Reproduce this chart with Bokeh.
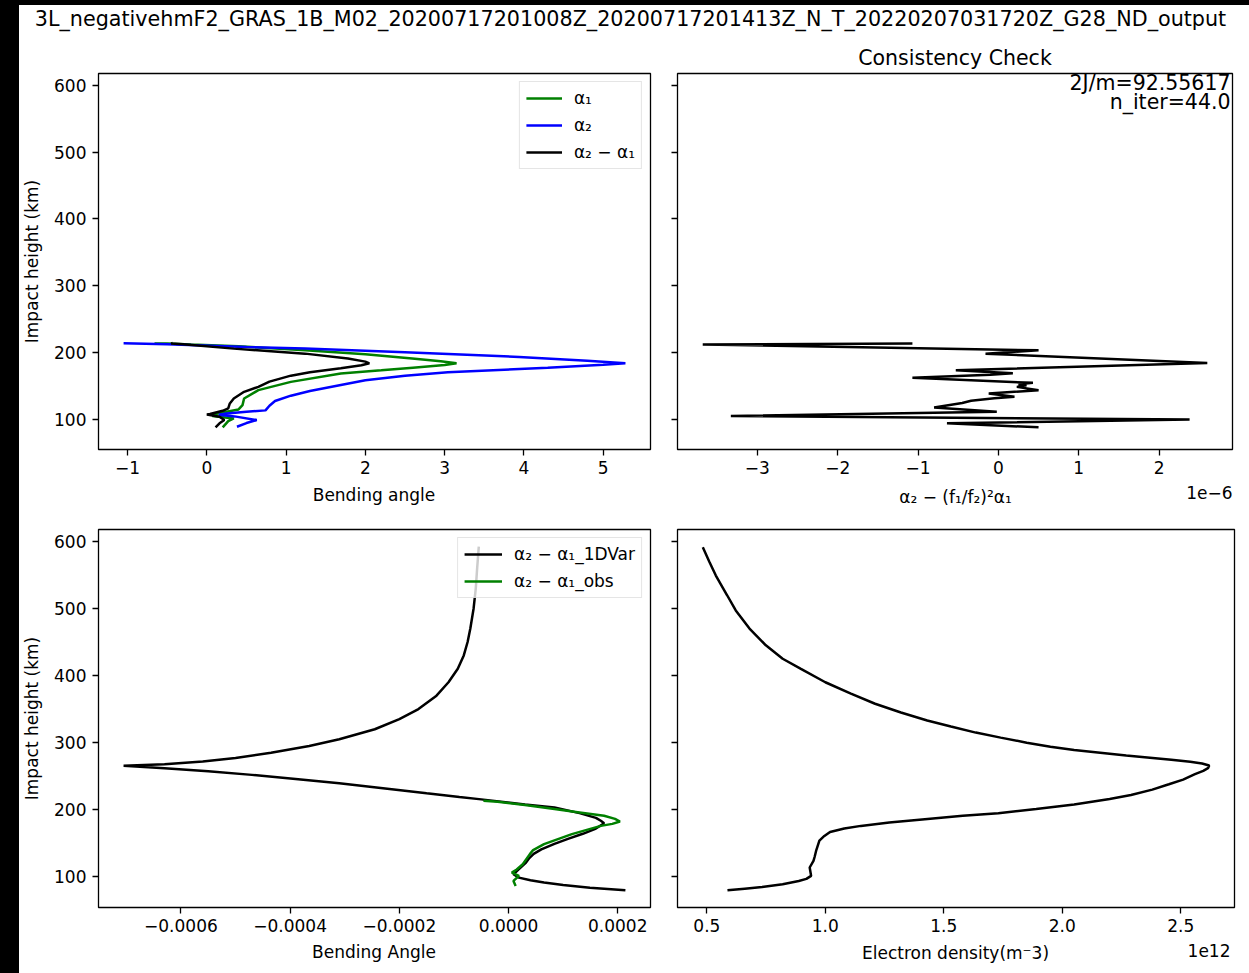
from bokeh.plotting import figure
from bokeh.models import (Range1d, FixedTicker, CustomJSTickFormatter, Legend,
                          LegendItem, Label, Spacer)
from bokeh.layouts import row, column
from bokeh.embed import file_html
from bokeh.resources import INLINE

FONT = "DejaVu Sans"

# ---------------- data ----------------
suptitle = "3L_negativehmF2_GRAS_1B_M02_20200717201008Z_20200717201413Z_N_T_20220207031720Z_G28_ND_output"

y_ticks = [100, 200, 300, 400, 500, 600]
tl_xticks = [-1, 0, 1, 2, 3, 4, 5]
tr_xticks = [-3, -2, -1, 0, 1, 2]
bl_xticks = [-0.0006, -0.0004, -0.0002, 0.0, 0.0002]
br_xticks = [0.5, 1.0, 1.5, 2.0, 2.5]

# top-left: bending angles
alpha1_x = [-0.66, -0.50, -0.20, 0.40, 1.24, 2.00, 2.59, 2.95, 3.15, 3.00, 2.60, 2.20,
            1.69, 1.06, 0.65, 0.47, 0.45, 0.40, 0.25, 0.11, 0.07, 0.34, 0.27, 0.20]
alpha1_h = [213.0, 213.0, 211.5, 209.0, 203.0, 197.0, 190.6, 186.5, 183.6, 181.0, 177.0, 173.0,
            168.2, 155.7, 143.3, 130.8, 120.9, 114.4, 110.9, 107.5, 104.5, 101.0, 97.0, 87.6]

alpha2_x = [-1.05, -0.50, 0.50, 1.24, 2.50, 3.94, 4.80, 5.28, 5.00, 4.30, 3.04, 2.50, 2.00,
            1.69, 1.30, 1.06, 0.86, 0.79, 0.74, 0.50, 0.25, 0.15, 0.35, 0.63, 0.50, 0.38]
alpha2_h = [213.4, 212.0, 208.0, 205.5, 200.0, 193.0, 187.5, 183.5, 181.5, 177.0, 170.0, 165.0, 158.0,
            151.0, 142.0, 135.0, 127.0, 120.0, 113.0, 111.0, 108.5, 106.5, 104.0, 98.5, 94.0, 88.5]

diff_x = [-0.43, -0.45, -0.30, 0.34, 1.24, 1.78, 2.00, 2.05, 1.95, 1.69, 1.30, 1.06, 0.79,
          0.65, 0.47, 0.34, 0.29, 0.27, 0.20, 0.04, 0.00, 0.16, 0.22, 0.16, 0.11]
diff_h = [214.0, 213.0, 212.0, 205.5, 198.0, 190.6, 186.0, 183.5, 180.5, 176.0, 170.0, 165.0, 156.0,
          148.2, 140.8, 130.8, 123.4, 115.9, 112.4, 107.5, 106.8, 103.4, 98.5, 93.6, 87.6]

# top-right: consistency check (units of 1e-6)
consist_x = [-1.07, -3.68, 0.50, -0.16, 2.60, -0.53, 0.18, -0.10, -1.07, 0.43, 0.25, 0.35, 0.23,
             0.50, -0.12, 0.20, -0.05, -0.34, -0.45, -0.80, -0.02, -3.33, 2.38, -0.64, 0.50]
consist_h = [213.0, 211.8, 203.0, 198.0, 184.0, 173.1, 168.7, 166.5, 161.7, 154.2, 152.0, 150.5, 148.2,
             143.3, 138.4, 133.3, 131.0, 127.3, 124.0, 117.4, 110.9, 104.5, 99.5, 93.6, 87.6]
consist_text = ["2J/m=92.55617", "n_iter=44.0"]

# bottom-left: alpha2 - alpha1 (1DVar and obs)
var1d_x = [-0.545e-4, -0.575e-4, -0.60e-4, -0.64e-4, -0.70e-4, -0.75e-4, -0.82e-4, -0.93e-4,
           -1.10e-4, -1.32e-4, -1.65e-4, -2.00e-4, -2.45e-4, -3.10e-4, -3.65e-4, -4.35e-4,
           -5.00e-4, -5.60e-4, -6.30e-4, -7.05e-4, -6.30e-4, -5.50e-4, -4.70e-4, -3.90e-4,
           -3.10e-4, -2.30e-4, -1.50e-4, -0.90e-4, -0.50e-4, 0.30e-4, 0.84e-4, 1.30e-4,
           1.60e-4, 1.69e-4, 1.75e-4, 1.60e-4, 1.36e-4, 1.10e-4, 0.84e-4, 0.60e-4,
           0.46e-4, 0.38e-4, 0.32e-4, 0.25e-4, 0.19e-4, 0.09e-4, 0.19e-4, 0.40e-4,
           0.65e-4, 1.00e-4, 1.49e-4, 2.14e-4]
var1d_h = [592, 560, 530, 500, 470, 450, 430, 410,
           390, 370, 350, 335, 320, 305, 295, 285,
           277, 272, 268, 265.5, 262, 257.5, 252, 246,
           239.5, 232, 224.5, 219, 215.5, 208, 203.4, 195,
           188, 183.6, 180, 172, 164.2, 157, 149.3, 141,
           134.3, 128, 121.4, 116, 111.5, 104, 98.9, 95,
           91.5, 88, 84, 80]

obs_x = [-0.46e-4, -0.20e-4, 0.30e-4, 0.84e-4, 1.30e-4, 1.75e-4, 1.95e-4, 2.04e-4, 1.90e-4, 1.69e-4,
         1.16e-4, 0.65e-4, 0.45e-4, 0.39e-4, 0.26e-4, 0.15e-4, 0.06e-4, 0.19e-4, 0.09e-4, 0.13e-4]
obs_h = [213.5, 212.0, 207.0, 201.0, 196.0, 191.0, 186.5, 182.5, 179.0, 176.0,
         163.7, 148.8, 140.0, 133.9, 118.9, 111.0, 106.4, 101.5, 94.0, 86.6]

# bottom-right: electron density (units of 1e12 m^-3)
dens_x = [0.483, 0.51, 0.538, 0.585, 0.622, 0.68, 0.749, 0.82, 0.897, 1.0,
          1.108, 1.21, 1.319, 1.43, 1.53, 1.635, 1.74, 1.85, 1.95, 2.05,
          2.16, 2.27, 2.37, 2.46, 2.54, 2.59, 2.62, 2.615, 2.595, 2.56,
          2.51, 2.45, 2.38, 2.29, 2.20, 2.05, 1.89, 1.73, 1.58, 1.42,
          1.27, 1.15, 1.08, 1.02, 0.996, 0.975, 0.962, 0.955, 0.95, 0.934,
          0.94, 0.92, 0.888, 0.82, 0.733, 0.66, 0.587]
dens_h = [591, 570, 549, 520, 497, 470, 445, 425, 410, 390,
          373, 358, 345, 333, 324, 315, 307.5, 300, 294, 289,
          285, 281, 277.6, 274.5, 271.6, 269, 266, 262, 258, 253,
          245, 238, 230, 222, 216, 208, 201, 195, 191, 186,
          181, 176, 172, 167, 161, 154, 140, 130, 123.9, 114,
          101.5, 97, 94, 89, 85, 82.5, 80]

x_labels = ["Bending angle", "α₂ − (f₁/f₂)²α₁", "Bending Angle", "Electron density(m⁻3)"]
y_label = "Impact height (km)"


# ---------------- helpers ----------------
def padded(*lists):
    vals = [v for l in lists for v in l]
    lo, hi = min(vals), max(vals)
    d = (hi - lo) * 0.05
    return lo - d, hi + d


def fmt(digits):
    return CustomJSTickFormatter(args=dict(d=digits), code="""
        const a = Math.abs(tick);
        if (a < 1e-12) return (0).toFixed(d);
        return (tick < 0 ? "\\u2212" : "") + a.toFixed(d);
    """)


def blank_fmt():
    return CustomJSTickFormatter(code='return "";')


YR = padded(alpha1_h, alpha2_h, diff_h, consist_h, var1d_h, obs_h, dens_h)


def make_fig(width, height, xr, mb, xticks, xdigits, ylabel=None):
    p = figure(width=width, height=height,
               x_range=Range1d(*xr), y_range=Range1d(*YR),
               toolbar_location=None, output_backend="svg",
               min_border_left=mb[0], min_border_right=mb[1],
               min_border_top=mb[2], min_border_bottom=mb[3])
    p.grid.visible = False
    p.outline_line_color = "black"
    p.outline_line_width = 1.3
    p.background_fill_color = "white"
    p.border_fill_color = "white"
    for ax in (p.xaxis[0], p.yaxis[0]):
        ax.axis_line_color = None
        ax.major_tick_out = 6
        ax.major_tick_in = 0
        ax.major_tick_line_width = 1.3
        ax.major_tick_line_color = "black"
        ax.minor_tick_line_color = None
        ax.major_label_text_font = FONT
        ax.major_label_text_font_size = "17px"
        ax.major_label_text_color = "black"
        ax.axis_label_text_font = FONT
        ax.axis_label_text_font_size = "17px"
        ax.axis_label_text_font_style = "normal"
        ax.axis_label_text_color = "black"
    xa, ya = p.xaxis[0], p.yaxis[0]
    xa.ticker = FixedTicker(ticks=xticks)
    xa.formatter = fmt(xdigits)
    xa.major_label_standoff = 5
    ya.ticker = FixedTicker(ticks=y_ticks)
    if ylabel is None:
        ya.formatter = blank_fmt()
        ya.major_label_standoff = 0
    else:
        ya.formatter = fmt(0)
        ya.major_label_standoff = 6
        ya.axis_label = ylabel
        ya.axis_label_standoff = 9
    return p


def text_strip(width, height):
    s = figure(width=width, height=height, x_range=Range1d(0, width), y_range=Range1d(0, height),
               toolbar_location=None, output_backend="svg", min_border=0)
    s.xaxis.visible = False
    s.yaxis.visible = False
    s.grid.visible = False
    s.outline_line_color = None
    s.border_fill_color = "white"
    s.background_fill_color = "white"
    return s


def add_text(s, x, y, text, size, align="center"):
    s.add_layout(Label(x=x, y=y, text=text, text_align=align, text_baseline="middle",
                       text_font=FONT, text_font_size=size, text_color="black"))


def style_legend(lg, glyph_w):
    lg.location = "top_right"
    lg.margin = 8
    lg.padding = 6
    lg.spacing = 7
    lg.label_text_font = FONT
    lg.label_text_font_size = "17px"
    lg.label_text_color = "black"
    lg.label_height = 20
    lg.glyph_height = 20
    lg.glyph_width = glyph_w
    lg.label_standoff = 12
    lg.border_line_color = "#cccccc"
    lg.border_line_width = 1
    lg.background_fill_color = "white"
    lg.background_fill_alpha = 0.8


LW = 2.5

# ---------------- title strip ----------------
pt = text_strip(1230, 35)
add_text(pt, 611, 22, suptitle, "20.7px")

# ---------------- top-left ----------------
p1 = make_fig(645, 442, padded(alpha1_x, alpha2_x, diff_x), (78, 14, 32, 33),
              tl_xticks, 0, y_label)
r1 = p1.line(alpha1_x, alpha1_h, line_color="#008000", line_width=LW)
r2 = p1.line(alpha2_x, alpha2_h, line_color="#0000ff", line_width=LW)
r3 = p1.line(diff_x, diff_h, line_color="black", line_width=LW)
lg1 = Legend(items=[LegendItem(label="α₁", renderers=[r1]),
                    LegendItem(label="α₂", renderers=[r2]),
                    LegendItem(label="α₂ − α₁", renderers=[r3])])
style_legend(lg1, 36)
p1.add_layout(lg1)

# ---------------- top-right ----------------
xr2 = padded(consist_x)
p2 = make_fig(585, 442, xr2, (13, 17, 32, 33), tr_xticks, 0, None)
p2.title.text = "Consistency Check"
p2.title.text_font = FONT
p2.title.text_font_size = "20.5px"
p2.title.text_font_style = "normal"
p2.title.text_color = "black"
p2.title.align = "center"
p2.title.standoff = 7
p2.line(consist_x, consist_h, line_color="black", line_width=LW)
p2.add_layout(Label(x=xr2[1], y=YR[1], x_offset=-2, y_offset=-9, text=consist_text[0],
                    text_align="right", text_baseline="middle", text_font=FONT,
                    text_font_size="20.5px", text_color="black"))
p2.add_layout(Label(x=xr2[1], y=YR[1], x_offset=-2, y_offset=-28, text=consist_text[1],
                    text_align="right", text_baseline="middle", text_font=FONT,
                    text_font_size="20.5px", text_color="black"))

# ---------------- strip with lower labels of the top row ----------------
s1 = text_strip(1230, 33)
add_text(s1, 354.5, 21, x_labels[0], "17px")
add_text(s1, 936, 19, x_labels[1], "17px")
add_text(s1, 1213, 23, "1e−6", "17px", "right")

# ---------------- bottom-left ----------------
p3 = make_fig(645, 425, padded(var1d_x, obs_x), (78, 14, 14, 33),
              bl_xticks, 4, y_label)
r4 = p3.line(var1d_x, var1d_h, line_color="black", line_width=LW)
r5 = p3.line(obs_x, obs_h, line_color="#008000", line_width=LW)
lg3 = Legend(items=[LegendItem(label="α₂ − α₁_1DVar", renderers=[r4]),
                    LegendItem(label="α₂ − α₁_obs", renderers=[r5])])
style_legend(lg3, 38)
p3.add_layout(lg3)

# ---------------- bottom-right ----------------
xr4 = padded(dens_x)
p4 = make_fig(585, 425, xr4, (13, 15, 14, 33), br_xticks, 1, None)
p4.line(dens_x, dens_h, line_color="black", line_width=LW)

# ---------------- strip with lower labels of the bottom row ----------------
s2 = text_strip(1230, 33)
add_text(s2, 354.5, 22, x_labels[2], "17px")
add_text(s2, 936, 21, x_labels[3], "17px")
add_text(s2, 1211, 23, "1e12", "17px", "right")

# ---------------- layout ----------------
left_bar = Spacer(width=19, height=968, styles={"background-color": "black"})
top_bar = Spacer(width=1249, height=5, styles={"background-color": "black"})
content = column(pt, row(p1, p2), s1, row(p3, p4), s2)
layout = column(top_bar, row(left_bar, content))

with open("out.html", "w", encoding="utf-8") as f:
    f.write(file_html(layout, INLINE))
